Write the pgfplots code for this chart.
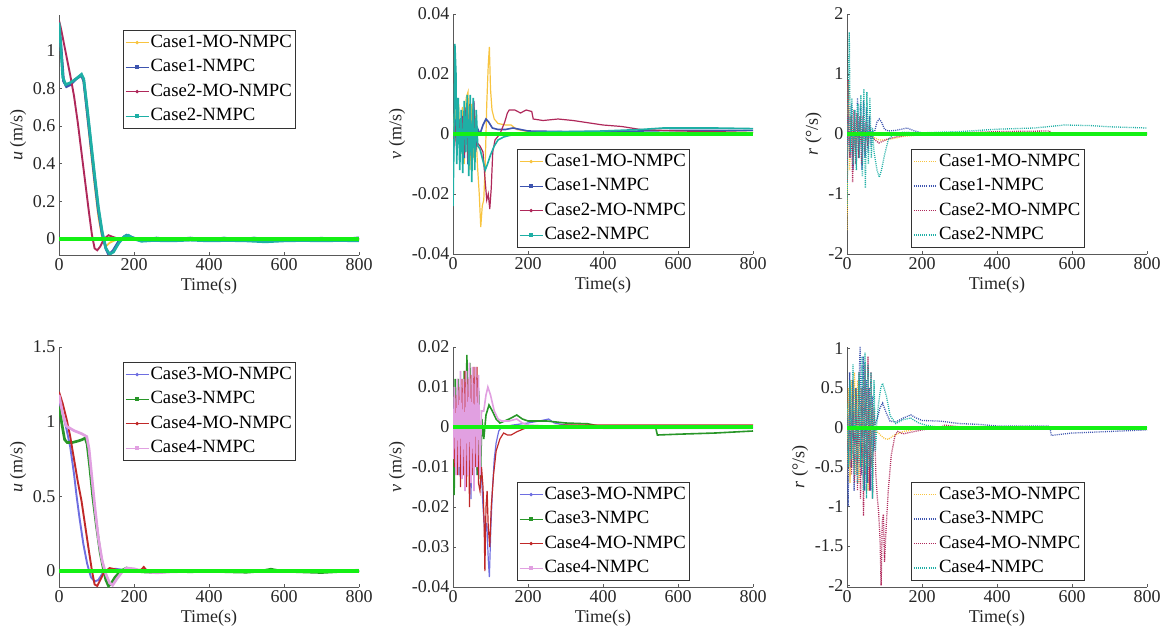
\documentclass[border=0pt]{standalone}
\usepackage{fontspec}
\setmainfont{Liberation Serif}
\usepackage{pgfplots}
\pgfplotsset{compat=1.18}

\definecolor{cyel}{RGB}{248,196,64}
\definecolor{cblu}{RGB}{61,84,175}
\definecolor{ccri}{RGB}{175,40,90}
\definecolor{cteal}{RGB}{30,175,165}
\definecolor{cpur}{RGB}{110,110,225}
\definecolor{cgrn}{RGB}{40,150,40}
\definecolor{cred}{RGB}{192,40,40}
\definecolor{cpink}{RGB}{225,160,225}
\definecolor{cref}{RGB}{20,240,20}

\newcommand\tkf{\fontsize{18}{18}\selectfont}
\newcommand\lgf{\fontsize{18.7}{18.7}\selectfont}

\pgfplotsset{
  panel/.style={
    scale only axis, width=300pt, height=240pt,
    anchor=south west,
    axis x line*=bottom, axis y line*=left,
    axis line style={-, black!65, line width=0.6pt},
    tick style={black!65, line width=0.6pt},
    tick align=inside, major tick length=3pt,
    xmin=0, xmax=800, xtick={0,200,...,800},
    scaled y ticks=false,
    /pgf/number format/assume math mode=true,
    yticklabel style={/pgf/number format/fixed, /pgf/number format/precision=3},
    ticklabel style={font=\tkf, text=black!85},
    label style={font=\tkf, text=black!85},
    xlabel={Time(s)},
    legend cell align=left,
    legend style={draw=black!80, line width=0.6pt, font=\lgf,
      inner xsep=2pt, inner ysep=2pt, row sep=4pt,
      nodes={inner sep=1.5pt, text height=13.5pt, text depth=4pt},
      anchor=north west},
    legend image code/.code={\draw[mark repeat=2,mark phase=2,#1] plot coordinates {(0pt,0pt) (11.5pt,0pt) (23pt,0pt)};},
  },
  mo/.style={line width=1.9pt},
  nm/.style={line width=2.7pt},
  mov/.style={line width=1.2pt},
  nmv/.style={line width=1.6pt},
  dt/.style={dash pattern=on 1pt off 1.1pt, line width=1.3pt},
  refl/.style={cref, line width=4pt, forget plot},
}

\begin{document}
\begin{tikzpicture}[x=1pt,y=1pt]

% ---------- top left: u ----------
\begin{axis}[panel, at={(59pt,383pt)}, ymin=-0.085, ymax=1.19, ytick={0,0.2,...,1},
  ylabel={\textit{u} (m/s)}, legend style={at={(0.213,0.9375)}}]
\addplot[cyel, mo, forget plot] coordinates {(0,1.13)(5,1.02)(12,0.84)(20,0.82)(30,0.83)(45,0.85)(60,0.87)(66,0.83)(75,0.66)(85,0.47)(95,0.29)(105,0.12)(115,0.01)(125,-0.04)(135,-0.02)(145,-0.01)(160,0.0)(180,0.015)(200,0.0)(240,-0.005)(300,0.0)(400,0.0)(500,0.0)(600,0.0)(800,0.0)};
\addplot[cblu, nm, forget plot] coordinates {(0,1.14)(5,1.03)(12,0.84)(20,0.81)(30,0.82)(45,0.85)(60,0.87)(66,0.84)(75,0.68)(85,0.5)(95,0.32)(105,0.15)(115,0.03)(125,-0.05)(133,-0.085)(145,-0.06)(160,-0.01)(180,0.02)(200,0.005)(220,-0.008)(260,0.005)(300,-0.005)(350,0.005)(400,-0.005)(440,0.005)(480,-0.005)(520,0.005)(560,-0.005)(600,0.003)(640,-0.004)(700,0.004)(750,-0.003)(800,0.006)};
\addplot[ccri, mo, forget plot] coordinates {(0,1.16)(5,1.12)(10,1.07)(20,0.97)(30,0.87)(40,0.76)(50,0.62)(60,0.46)(70,0.3)(80,0.14)(88,0.02)(95,-0.05)(102,-0.06)(110,-0.04)(120,0.0)(132,0.02)(145,0.01)(160,0.0)(180,0.005)(200,0.0)(240,0.005)(300,-0.003)(400,0.0)(500,0.0)(600,0.0)(800,0.0)};
\addplot[cteal, nm, forget plot] coordinates {(0,1.15)(4,1.05)(10,0.86)(18,0.82)(30,0.83)(45,0.85)(60,0.875)(66,0.85)(75,0.7)(85,0.52)(95,0.34)(105,0.17)(115,0.04)(125,-0.05)(135,-0.08)(145,-0.07)(160,-0.02)(175,0.015)(185,0.02)(200,0.0)(220,-0.012)(250,-0.008)(300,-0.01)(350,-0.006)(400,-0.01)(450,-0.008)(500,-0.01)(550,-0.015)(600,-0.01)(650,-0.008)(700,-0.01)(750,-0.008)(800,-0.01)};
\addplot[refl] coordinates {(0,0)(800,0)};
\addlegendimage{cyel, line width=0.8pt, mark=*, mark size=1.3pt}\addlegendentry{Case1-MO-NMPC}
\addlegendimage{cblu, line width=0.8pt, mark=square*, mark size=1.6pt}\addlegendentry{Case1-NMPC}
\addlegendimage{ccri, line width=0.8pt, mark=*, mark size=1.3pt}\addlegendentry{Case2-MO-NMPC}
\addlegendimage{cteal, line width=0.8pt, mark=square*, mark size=1.6pt}\addlegendentry{Case2-NMPC}
\end{axis}

% ---------- top middle: v ----------
\begin{axis}[panel, at={(453pt,384pt)}, ymin=-0.04, ymax=0.04, ytick={-0.04,-0.02,0,0.02,0.04},
  ylabel={\textit{v} (m/s)}, legend style={at={(0.213,0.4375)}}]
\addplot[cyel, mov, forget plot] coordinates {(0,0.0)(5,0.008)(10,-0.005)(15,0.01)(20,-0.008)(25,0.009)(30,-0.01)(35,0.012)(40,0.014)(45,-0.012)(50,0.01)(55,-0.008)(60,0.006)(65,-0.01)(70,-0.02)(74,-0.031)(78,-0.024)(82,-0.022)(86,-0.01)(90,0.01)(94,0.023)(97,0.029)(100,0.015)(104,0.008)(110,0.005)(120,0.0035)(140,0.003)(155,0.003)(170,0.0015)(200,0.0008)(300,0.0005)(500,0.0005)(800,0.0005)};
\addplot[cblu, nmv, forget plot] coordinates {(0,-0.01)(5,0.005)(10,-0.003)(15,0.005)(20,-0.006)(25,0.004)(30,-0.008)(35,0.008)(40,-0.01)(45,0.01)(50,-0.008)(55,0.011)(60,-0.006)(65,0.002)(72,0.0)(80,0.003)(88,0.005)(95,0.004)(105,0.002)(120,0.0015)(140,0.0015)(160,0.002)(180,0.0015)(200,0.001)(300,0.0008)(400,0.0008)(500,0.001)(600,0.0012)(700,0.0012)(800,0.0012)};
\addplot[ccri, mov, forget plot] coordinates {(0,-0.005)(5,0.004)(10,-0.006)(15,0.005)(20,-0.004)(25,0.006)(30,-0.007)(35,0.009)(40,-0.009)(45,0.01)(50,-0.012)(55,0.011)(60,-0.004)(65,-0.003)(72,-0.004)(80,-0.006)(86,-0.016)(90,-0.022)(94,-0.02)(98,-0.025)(102,-0.018)(106,-0.006)(112,-0.002)(125,0.0)(138,0.004)(145,0.007)(150,0.008)(165,0.008)(180,0.007)(195,0.008)(210,0.0075)(214,0.005)(240,0.0045)(280,0.005)(320,0.0045)(400,0.003)(450,0.0025)(500,0.0015)(600,0.001)(700,0.0008)(800,0.0005)};
\addplot[cteal, nmv, forget plot] coordinates {(0,-0.024)(3,0.0)(5,0.03)(8,0.02)(10,-0.01)(14,0.012)(18,-0.012)(22,0.008)(26,-0.013)(30,0.011)(34,-0.006)(38,0.013)(42,-0.014)(46,0.013)(50,-0.016)(54,0.012)(58,-0.012)(62,0.008)(66,-0.004)(72,-0.005)(78,-0.008)(86,-0.012)(92,-0.01)(100,-0.007)(110,-0.004)(120,-0.002)(135,-0.001)(150,-0.0005)(170,0.0)(200,0.0005)(300,0.0008)(400,0.001)(500,0.0015)(560,0.002)(600,0.002)(700,0.002)(800,0.0018)};
\addplot[refl] coordinates {(0,0)(800,0)};
\addlegendimage{cyel, line width=0.8pt, mark=*, mark size=1.3pt}\addlegendentry{Case1-MO-NMPC}
\addlegendimage{cblu, line width=0.8pt, mark=square*, mark size=1.6pt}\addlegendentry{Case1-NMPC}
\addlegendimage{ccri, line width=0.8pt, mark=*, mark size=1.3pt}\addlegendentry{Case2-MO-NMPC}
\addlegendimage{cteal, line width=0.8pt, mark=square*, mark size=1.6pt}\addlegendentry{Case2-NMPC}
\end{axis}

% ---------- top right: r ----------
\begin{axis}[panel, at={(847pt,384pt)}, ymin=-2, ymax=2, ytick={-2,-1,0,1,2},
  ylabel={\textit{r} (°/s)}, legend style={at={(0.213,0.4375)}}]
\addplot[cyel, dt, forget plot] coordinates {(0,-1.6)(2,0.3)(4,0.9)(7,-0.6)(11,0.3)(15,-0.2)(19,0.2)(23,-0.3)(27,0.2)(31,-0.2)(35,0.15)(40,-0.15)(45,0.1)(50,-0.1)(60,-0.05)(70,-0.05)(85,-0.1)(100,-0.1)(120,-0.08)(150,-0.04)(200,-0.01)(300,0.0)(800,0.0)};
\addplot[cblu, dt, forget plot] coordinates {(0,-0.5)(4,0.3)(8,-0.4)(12,0.5)(16,-0.6)(20,0.4)(24,-0.5)(28,0.6)(32,-0.4)(36,0.5)(40,-0.6)(44,0.55)(48,-0.4)(52,0.45)(56,-0.3)(60,0.3)(64,-0.2)(68,0.05)(72,0.0)(80,0.2)(86,0.25)(92,0.2)(100,0.08)(110,0.05)(130,0.06)(160,0.1)(180,0.05)(200,0.02)(300,0.02)(400,0.02)(800,0.02)};
\addplot[ccri, dt, forget plot] coordinates {(0,-0.8)(3,0.9)(7,-0.4)(11,0.3)(15,-0.8)(19,0.4)(23,-0.5)(27,0.35)(31,-0.4)(35,0.3)(39,-0.5)(43,0.3)(47,-0.3)(51,0.2)(55,-0.2)(60,0.1)(66,-0.05)(75,-0.1)(85,-0.15)(95,-0.12)(110,-0.08)(130,-0.05)(160,-0.02)(200,0.0)(300,0.02)(400,0.04)(540,0.05)(545,0.0)(800,0.0)};
\addplot[cteal, dt, forget plot] coordinates {(0,-1.2)(3,0.5)(6,1.7)(9,-0.3)(13,0.6)(17,-0.5)(21,0.4)(25,-0.6)(29,0.5)(33,-0.4)(37,0.65)(41,-0.7)(45,0.75)(49,-0.9)(53,0.7)(57,-0.5)(61,0.6)(65,-0.4)(68,0.1)(72,-0.3)(80,-0.6)(86,-0.72)(92,-0.6)(100,-0.35)(110,-0.1)(125,0.0)(150,0.03)(200,0.02)(300,0.04)(400,0.08)(500,0.1)(580,0.15)(650,0.14)(700,0.12)(800,0.1)};
\addplot[refl] coordinates {(0,0)(800,0)};
\addlegendimage{cyel, dt}\addlegendentry{Case1-MO-NMPC}
\addlegendimage{cblu, dt}\addlegendentry{Case1-NMPC}
\addlegendimage{ccri, dt}\addlegendentry{Case2-MO-NMPC}
\addlegendimage{cteal, dt}\addlegendentry{Case2-NMPC}
\end{axis}

% ---------- bottom left: u ----------
\begin{axis}[panel, at={(59pt,51pt)}, ymin=-0.107, ymax=1.5, ytick={0,0.5,1,1.5},
  ylabel={\textit{u} (m/s)}, legend style={at={(0.213,0.9375)}}]
\addplot[cpur, mo, forget plot] coordinates {(0,1.15)(10,1.05)(20,0.95)(30,0.83)(40,0.65)(47,0.5)(55,0.35)(65,0.18)(75,0.05)(85,-0.04)(95,-0.07)(105,-0.06)(115,-0.02)(125,0.0)(150,0.015)(180,0.005)(220,0.0)(300,0.0)(400,0.0)(500,0.0)(800,0.0)};
\addplot[cgrn, nm, forget plot] coordinates {(0,1.1)(8,0.98)(15,0.88)(22,0.86)(35,0.86)(50,0.87)(62,0.88)(70,0.89)(75,0.85)(82,0.7)(90,0.5)(100,0.3)(110,0.12)(118,0.02)(125,-0.06)(132,-0.1)(140,-0.08)(150,-0.04)(165,0.0)(180,0.02)(195,0.01)(220,-0.005)(260,-0.01)(300,0.0)(350,-0.005)(400,0.0)(450,-0.005)(500,-0.008)(540,0.0)(565,0.012)(590,0.0)(640,-0.005)(700,-0.01)(750,-0.003)(800,0.0)};
\addplot[cred, mo, forget plot] coordinates {(0,1.2)(10,1.12)(20,1.02)(30,0.9)(40,0.75)(50,0.6)(60,0.47)(70,0.3)(80,0.13)(88,0.0)(95,-0.09)(102,-0.1)(110,-0.06)(120,-0.01)(135,0.02)(160,0.005)(200,0.0)(220,0.01)(226,0.027)(235,0.0)(250,-0.01)(280,0.0)(300,0.005)(350,0.0)(400,-0.005)(500,-0.005)(600,0.0)(800,0.0)};
\addplot[cpink, nm, forget plot] coordinates {(0,1.18)(10,1.05)(20,0.97)(40,0.94)(60,0.92)(74,0.9)(80,0.82)(88,0.62)(96,0.42)(105,0.22)(115,0.07)(125,-0.02)(135,-0.08)(143,-0.095)(155,-0.05)(170,0.0)(180,0.02)(200,0.015)(230,-0.005)(260,-0.012)(300,-0.005)(400,0.0)(500,0.0)(600,0.0)(700,0.0)(800,0.005)};
\addplot[refl] coordinates {(0,0)(800,0)};
\addlegendimage{cpur, line width=0.8pt, mark=*, mark size=1.3pt}\addlegendentry{Case3-MO-NMPC}
\addlegendimage{cgrn, line width=0.8pt, mark=square*, mark size=1.6pt}\addlegendentry{Case3-NMPC}
\addlegendimage{cred, line width=0.8pt, mark=*, mark size=1.3pt}\addlegendentry{Case4-MO-NMPC}
\addlegendimage{cpink, line width=0.8pt, mark=square*, mark size=1.6pt}\addlegendentry{Case4-NMPC}
\end{axis}

% ---------- bottom middle: v ----------
\begin{axis}[panel, at={(453pt,51pt)}, ymin=-0.04, ymax=0.02, ytick={-0.04,-0.03,...,0.02},
  ylabel={\textit{v} (m/s)}, legend style={at={(0.213,0.4375)}}]
\addplot[cpur, mov, forget plot] coordinates {(0,-0.004)(4,0.006)(8,-0.008)(12,0.01)(16,-0.012)(20,0.008)(24,-0.01)(28,0.012)(32,-0.014)(36,0.01)(40,-0.012)(44,0.012)(48,-0.018)(52,0.01)(56,-0.014)(60,0.01)(64,-0.012)(68,0.008)(72,-0.008)(76,-0.012)(80,-0.02)(85,-0.027)(90,-0.024)(94,-0.033)(97,-0.0375)(101,-0.025)(105,-0.016)(110,-0.008)(115,-0.004)(122,-0.001)(130,0.0)(160,0.0005)(200,0.001)(230,0.0015)(255,0.002)(270,0.001)(300,0.0005)(400,0.0)(800,0.0)};
\addplot[cgrn, nmv, forget plot] coordinates {(0,0.001)(3,-0.017)(6,0.012)(10,-0.005)(14,0.012)(18,-0.01)(22,0.01)(26,-0.012)(30,0.014)(34,-0.01)(37,0.018)(41,-0.008)(45,0.016)(49,-0.012)(53,0.012)(57,-0.01)(61,0.011)(65,-0.012)(69,0.009)(73,-0.013)(77,0.002)(82,-0.003)(88,0.003)(96,0.0055)(105,0.004)(115,0.002)(125,0.001)(150,0.002)(170,0.003)(185,0.002)(200,0.0015)(250,0.0015)(300,0.001)(360,0.0008)(400,0.0)(540,0.0)(545,-0.002)(600,-0.0018)(700,-0.0015)(800,-0.001)};
\addplot[cred, mov, forget plot] coordinates {(0,0.003)(4,-0.01)(8,0.008)(12,-0.012)(16,0.01)(20,-0.015)(24,0.012)(28,-0.012)(32,0.014)(36,-0.015)(40,0.012)(44,-0.02)(48,0.013)(52,-0.012)(56,0.015)(60,-0.01)(64,0.015)(68,-0.014)(72,-0.016)(76,-0.01)(80,-0.015)(83,-0.024)(85,-0.036)(88,-0.02)(91,-0.016)(94,-0.025)(98,-0.03)(102,-0.02)(108,-0.012)(115,-0.006)(125,-0.003)(135,-0.0015)(145,-0.002)(155,-0.002)(170,-0.0012)(200,0.0)(300,0.0005)(800,0.0005)};
\addplot[cpink, nmv, forget plot] coordinates {(0,-0.008)(4,0.01)(8,-0.012)(12,0.012)(16,-0.01)(20,0.014)(24,-0.013)(28,0.012)(32,-0.016)(36,0.014)(40,-0.012)(44,0.016)(48,-0.014)(52,0.015)(56,-0.016)(60,0.015)(64,-0.01)(68,0.013)(72,-0.012)(76,0.004)(82,0.004)(88,0.008)(93,0.01)(100,0.008)(110,0.004)(120,0.002)(130,0.0015)(150,0.0015)(170,0.002)(185,0.001)(200,0.0005)(300,0.0)(400,-0.0003)(800,-0.0003)};
\addplot[refl] coordinates {(0,0)(800,0)};
\addlegendimage{cpur, line width=0.8pt, mark=*, mark size=1.3pt}\addlegendentry{Case3-MO-NMPC}
\addlegendimage{cgrn, line width=0.8pt, mark=square*, mark size=1.6pt}\addlegendentry{Case3-NMPC}
\addlegendimage{cred, line width=0.8pt, mark=*, mark size=1.3pt}\addlegendentry{Case4-MO-NMPC}
\addlegendimage{cpink, line width=0.8pt, mark=square*, mark size=1.6pt}\addlegendentry{Case4-NMPC}
\end{axis}

% ---------- bottom right: r ----------
\begin{axis}[panel, at={(847pt,51pt)}, ymin=-2.02, ymax=1.02, ytick={-2,-1.5,...,1},
  ylabel={\textit{r} (°/s)}, legend style={at={(0.213,0.4375)}}]
\addplot[cyel, dt, forget plot] coordinates {(0,-0.6)(4,0.5)(8,-0.7)(12,0.6)(16,-0.5)(20,0.7)(24,-0.6)(28,0.6)(32,-0.7)(36,0.5)(40,-0.5)(44,0.6)(48,-0.6)(52,0.5)(56,-0.8)(60,0.4)(64,-0.5)(68,0.3)(72,-0.05)(80,-0.05)(90,-0.1)(100,-0.14)(110,-0.15)(125,-0.1)(150,-0.05)(200,-0.01)(250,0.0)(800,0.0)};
\addplot[cblu, dt, forget plot] coordinates {(0,-0.2)(3,-1.0)(7,0.7)(11,-0.5)(15,0.6)(19,-0.8)(23,0.5)(27,-0.6)(31,0.4)(35,1.02)(39,-0.6)(43,0.9)(47,-0.8)(51,0.6)(55,-0.7)(59,0.5)(63,-0.8)(67,0.4)(71,-0.3)(75,0.05)(80,0.1)(88,0.25)(95,0.31)(105,0.18)(115,0.08)(130,0.07)(150,0.12)(170,0.16)(185,0.12)(200,0.09)(250,0.08)(300,0.05)(350,0.04)(400,0.02)(540,0.02)(545,-0.1)(600,-0.07)(700,-0.05)(800,-0.03)};
\addplot[ccri, dt, forget plot] coordinates {(0,0.2)(4,-0.5)(8,0.4)(12,-0.6)(16,0.6)(20,-0.7)(24,0.5)(28,-0.8)(32,0.7)(36,-0.9)(40,0.5)(44,-1.12)(48,0.8)(52,-0.7)(56,0.9)(60,-0.8)(64,0.7)(68,-0.9)(72,0.25)(77,-0.6)(81,-0.9)(84,-1.05)(88,-1.4)(91,-2.0)(94,-1.2)(97,-1.1)(100,-1.7)(104,-1.3)(110,-0.8)(118,-0.35)(128,-0.1)(135,-0.05)(150,-0.08)(170,-0.06)(200,-0.03)(250,0.0)(260,0.03)(300,0.01)(800,0.0)};
\addplot[cteal, dt, forget plot] coordinates {(0,0.3)(4,-0.5)(8,0.6)(12,-0.4)(16,0.8)(20,-0.6)(24,0.5)(28,-0.7)(32,0.7)(36,-0.5)(40,0.9)(44,-0.8)(48,0.95)(52,-0.9)(56,0.8)(60,-0.5)(64,0.7)(68,-0.9)(72,0.6)(76,-0.3)(80,0.1)(84,0.3)(90,0.5)(95,0.56)(105,0.4)(115,0.15)(130,0.05)(150,0.1)(170,0.12)(190,0.06)(210,0.03)(250,0.0)(800,0.0)};
\addplot[refl] coordinates {(0,0)(800,0)};
\addlegendimage{cyel, dt}\addlegendentry{Case3-MO-NMPC}
\addlegendimage{cblu, dt}\addlegendentry{Case3-NMPC}
\addlegendimage{ccri, dt}\addlegendentry{Case4-MO-NMPC}
\addlegendimage{cteal, dt}\addlegendentry{Case4-NMPC}
\end{axis}

\pgfresetboundingbox
\path[use as bounding box] (0,0) rectangle (1167,638);
\end{tikzpicture}
\end{document}
